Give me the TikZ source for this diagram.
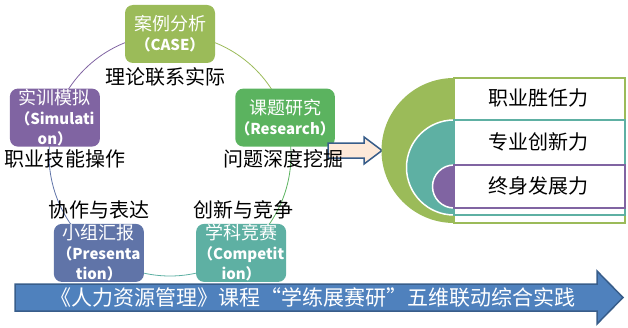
\documentclass[tikz,border=0pt]{standalone}
\usepackage{fontspec}
\newfontfamily\cjk{Noto Sans CJK SC}
\definecolor{hrOlive}{HTML}{9BBB59}
\definecolor{hrPurple}{HTML}{8064A2}
\definecolor{hrGreen}{HTML}{5BB35F}
\definecolor{hrSlate}{HTML}{6074A8}
\definecolor{hrTeal}{HTML}{5EB0A3}
\definecolor{hrBlue}{HTML}{4F81BD}
\definecolor{hrNavy}{HTML}{385D8A}
\definecolor{hrPeach}{HTML}{FDE9D9}
\newcommand\hrtitle[1]{{\mdseries\fontsize{18bp}{20bp}\selectfont #1}}
\tikzset{
  hr box/.style={rounded corners=8bp, minimum width=90bp, minimum height=58bp, inner sep=0pt,
    text=white, align=center, font=\cjk\bfseries\fontsize{15bp}{20bp}\selectfont},
  hr arc/.style={line width=0.8bp},
  hr label/.style={inner sep=0pt, text=black, font=\cjk\fontsize{20bp}{24bp}\selectfont},
  hr half/.style={draw=white, line width=1.5bp},
  hr row/.style={fill=white, line width=2bp},
  hr pointer/.style={draw=hrNavy, fill=hrPeach, line width=1.5bp, line join=miter},
  hr banner/.style={draw=hrNavy, fill=hrBlue, line width=1.5bp, line join=miter},
}
\begin{document}
\begin{tikzpicture}[x=1bp, y=1bp]
  \useasboundingbox (0,0) rectangle (628,327);
  \coordinate (ctr) at (170,172);

  % Cycle arcs, behind the boxes
  \draw[hr arc, draw=hrPurple] ([shift={(90:121bp)}]ctr) arc[start angle=90, end angle=162, radius=121bp];
  \draw[hr arc, draw=hrSlate] ([shift={(162:121bp)}]ctr) arc[start angle=162, end angle=234, radius=121bp];
  \draw[hr arc, draw=hrTeal] ([shift={(234:121bp)}]ctr) arc[start angle=234, end angle=306, radius=121bp];
  \draw[hr arc, draw=hrGreen] ([shift={(306:121bp)}]ctr) arc[start angle=306, end angle=378, radius=121bp];
  \draw[hr arc, draw=hrOlive] ([shift={(18:121bp)}]ctr) arc[start angle=18, end angle=90, radius=121bp];

  % Five steps
  \node[hr box, fill=hrOlive] (case) at ([shift={(90:121bp)}]ctr) {\hrtitle{案例分析}\\（CASE）};
  \node[hr box, fill=hrPurple] (sim) at ([shift={(162:121bp)}]ctr) {\hrtitle{实训模拟}\\（Simulati\\on）};
  \node[hr box, fill=hrGreen] (research) at ([shift={(18:121bp)}]ctr) {\hrtitle{课题研究}\\（Research）};
  \node[hr box, fill=hrSlate] (pres) at ([shift={(234:121bp)}]ctr) {\hrtitle{小组汇报}\\（Presenta\\tion）};
  \node[hr box, fill=hrTeal] (comp) at ([shift={(306:121bp)}]ctr) {\hrtitle{学科竞赛}\\（Competit\\ion）};

  % Small arrow towards the abilities
  \draw[hr pointer] (328,169) -- (364,169) -- (364,163) -- (382,176.5)
    -- (364,190) -- (364,184) -- (328,184) -- cycle;

  % Step labels
  \node[hr label] (lblCase) at (165,250) {理论联系实际};
  \node[hr label] (lblSim) at (65,168) {职业技能操作};
  \node[hr label] (lblResearch) at (283,168) {问题深度挖掘};
  \node[hr label] (lblPres) at (99,117) {协作与表达};
  \node[hr label] (lblComp) at (243,117) {创新与竞争};

  % Nested abilities
  \fill[hrOlive] (454,249) arc[start angle=90, end angle=270, radius=72.5bp] -- cycle;
  \draw[hr row, draw=hrOlive] (454,104) rectangle (625,249);
  \filldraw[hr half, fill=hrTeal] (454,207) arc[start angle=90, end angle=270, radius=47.5bp] -- cycle;
  \draw[hr row, draw=hrTeal] (454,112) rectangle (625,207);
  \filldraw[hr half, fill=hrPurple] (454,162) arc[start angle=90, end angle=270, radius=21.5bp] -- cycle;
  \draw[hr row, draw=hrPurple] (454,119) rectangle (625,162);
  \node[hr label] (ability1) at (538,229) {职业胜任力};
  \node[hr label] (ability2) at (538,185) {专业创新力};
  \node[hr label] (ability3) at (538,141) {终身发展力};

  % Banner arrow
  \draw[hr banner] (15,16) -- (597,16) -- (597,3) -- (623,29.5)
    -- (597,56) -- (597,43) -- (15,43) -- cycle;
  \node[hr label, text=white, font=\cjk\fontsize{21bp}{24bp}\selectfont] (banner) at (313,29.5)
    {《人力资源管理》课程“学练展赛研”五维联动综合实践};
\end{tikzpicture}
\end{document}
